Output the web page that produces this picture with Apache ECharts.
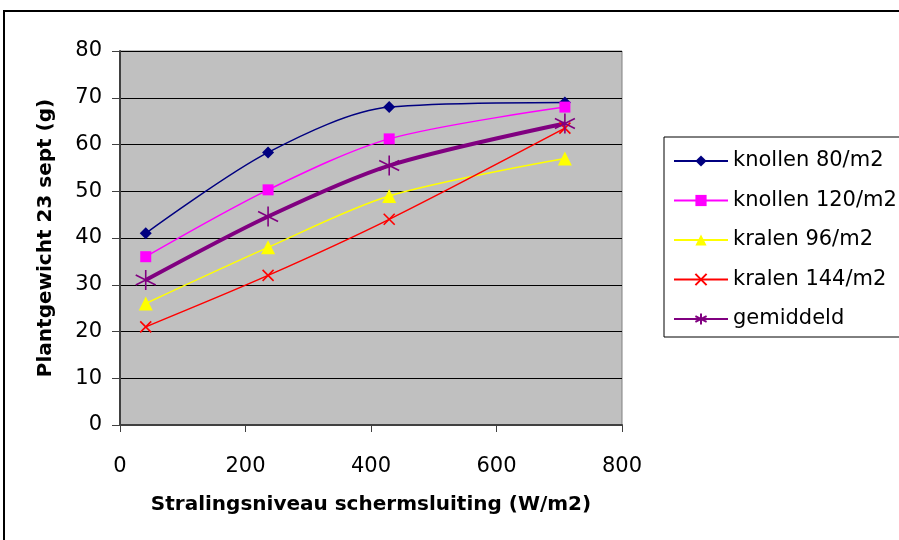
<!DOCTYPE html>
<html>
<head>
<meta charset="utf-8">
<script src="https://cdn.jsdelivr.net/npm/echarts@6/dist/echarts.min.js"></script>
<style>
  html, body { margin: 0; padding: 0; background: #fff; }
  #chart { width: 899px; height: 540px; }
</style>
</head>
<body>
<div id="chart"></div>
<script>
// stralingsniveau (W/m2)
var xValues = [41, 236, 429, 709]
var seriesNames = ['knollen 80/m2', 'knollen 120/m2', 'kralen 96/m2', 'kralen 144/m2', 'gemiddeld']
var knollen80 = [41.0, 58.3, 68.0, 69.0]
var knollen120 = [36.0, 50.3, 61.2, 68.0]
var kralen96 = [26.0, 38.0, 49.0, 57.0]
var kralen144 = [21.0, 32.0, 44.0, 63.5]
var gemiddeld = [31.0, 44.6, 55.5, 64.5]

var font = '"DejaVu Sans", Arial, sans-serif'
var asterisk = 'path://M0,-10L0,10M-8.66,-5L8.66,5M-8.66,5L8.66,-5'
var cross = 'path://M-8,-8L8,8M-8,8L8,-8'

function pairs(ys) {
  return ys.map(function (y, i) { return [xValues[i], y] })
}

function makeSeries(name, ys, color, symbol, size, width, stroked) {
  return {
    name: name,
    type: 'line',
    smooth: 0.3,
    data: pairs(ys),
    symbol: symbol,
    symbolSize: size,
    showSymbol: true,
    lineStyle: { color: color, width: width },
    itemStyle: stroked
      ? { color: 'none', borderColor: color, borderWidth: 1.6 }
      : { color: color, borderWidth: 0 },
    emphasis: { disabled: true },
    z: 3
  }
}

var chart = echarts.init(document.getElementById('chart'))
chart.setOption({
  animation: false,
  backgroundColor: '#fff',
  textStyle: { fontFamily: font },
  graphic: [{
    type: 'rect',
    shape: { x: 4, y: 11, width: 920, height: 560 },
    style: { fill: 'none', stroke: '#000', lineWidth: 2 },
    z: -10
  }],
  grid: {
    left: 120, right: 277, top: 51, bottom: 115,
    show: true, backgroundColor: '#c0c0c0', borderColor: '#808080', borderWidth: 1
  },
  legend: {
    orient: 'vertical',
    left: 664,
    top: 137,
    padding: [12, 40, 6, 9],
    itemGap: 15.5,
    itemWidth: 54,
    itemHeight: 14,
    borderColor: '#000',
    borderWidth: 1,
    backgroundColor: '#fff',
    data: seriesNames,
    textStyle: { fontSize: 21, color: '#000', fontFamily: font, lineHeight: 24 }
  },
  xAxis: {
    type: 'value',
    min: 0, max: 800, interval: 200,
    name: 'Stralingsniveau schermsluiting (W/m2)',
    nameLocation: 'middle',
    nameGap: 70,
    nameTextStyle: { fontSize: 20, fontWeight: 'bold', color: '#000' },
    axisLine: { show: true, lineStyle: { color: '#404040', width: 2 } },
    axisTick: { show: true, inside: false, length: 7, lineStyle: { color: '#404040' } },
    axisLabel: { fontSize: 21, color: '#000', margin: 31 },
    splitLine: { show: false }
  },
  yAxis: {
    type: 'value',
    min: 0, max: 80, interval: 10,
    name: 'Plantgewicht 23 sept (g)',
    nameLocation: 'middle',
    nameGap: 64,
    nameTextStyle: { fontSize: 20, fontWeight: 'bold', color: '#000' },
    axisLine: { show: true, lineStyle: { color: '#404040', width: 2 } },
    axisTick: { show: true, inside: false, length: 8, lineStyle: { color: '#404040' } },
    axisLabel: { fontSize: 21, color: '#000', margin: 18 },
    splitLine: { show: true, lineStyle: { color: '#000', width: 1 } }
  },
  series: [
    makeSeries(seriesNames[0], knollen80, '#000080', 'diamond', 12, 1.5, false),
    makeSeries(seriesNames[1], knollen120, '#ff00ff', 'rect', 11, 1.5, false),
    makeSeries(seriesNames[2], kralen96, '#ffff00', 'triangle', 14, 1.5, false),
    makeSeries(seriesNames[3], kralen144, '#ff0000', cross, 11, 1.5, true),
    makeSeries(seriesNames[4], gemiddeld, '#800080', asterisk, 20, 4, true)
  ]
})
</script>
</body>
</html>
